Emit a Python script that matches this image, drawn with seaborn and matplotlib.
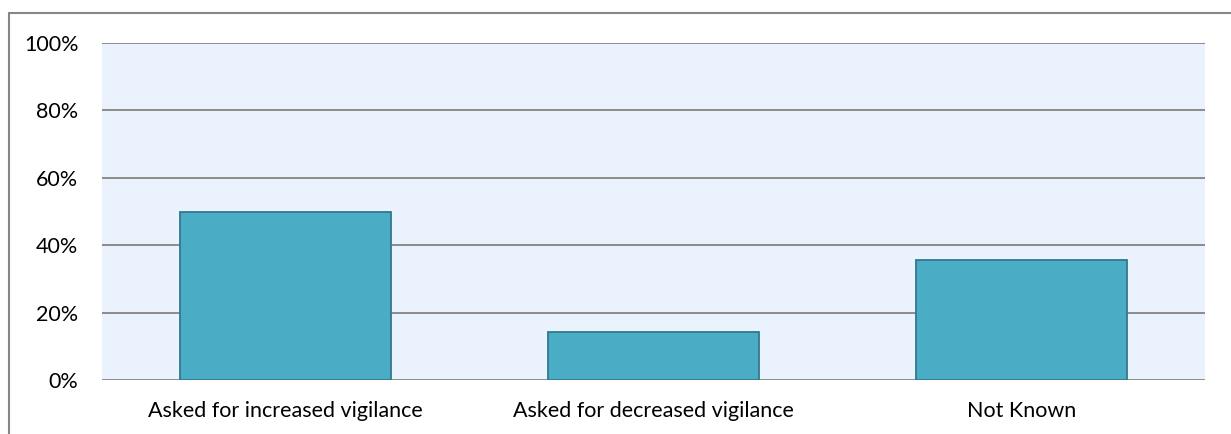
import matplotlib
matplotlib.use("Agg")
import matplotlib.pyplot as plt
import seaborn as sns
import pandas as pd
from matplotlib.lines import Line2D
from matplotlib.ticker import FuncFormatter

categories = ["Asked for increased vigilance", "Asked for decreased vigilance", "Not Known"]
values = [50.0, 14.3, 35.7]
yticks = [0, 20, 40, 60, 80, 100]

sns.set_theme(style="white")
plt.rcParams['font.family'] = ['Lato', 'DejaVu Sans']

df = pd.DataFrame({"category": categories, "value": values})

fig = plt.figure(figsize=(12.31, 4.34), dpi=100)
ax = fig.add_axes([102/1231, 1-380/434, (1205-102)/1231, (380-43)/434])
ax.set_facecolor("#E9F2FD")

for y in yticks:
    ax.axhline(y, color="#8C8C8C", lw=1.4, zorder=1)

sns.barplot(data=df, x="category", y="value", ax=ax, color="#4BACC6",
            width=0.574, edgecolor="#31788C", linewidth=1.3, saturation=1, zorder=2)

ax.set_ylim(0, 100)
ax.set_xlim(-0.5, 2.5)
ax.set_yticks(yticks)
ax.yaxis.set_major_formatter(FuncFormatter(lambda v, p: f"{int(v)}%"))
ax.tick_params(axis="y", length=0, pad=17, labelsize=15.5, colors="#000000")
ax.tick_params(axis="x", length=0, pad=15, labelsize=15.5, colors="#000000")
ax.set_xlabel("")
ax.set_ylabel("")
for s in ax.spines.values():
    s.set_visible(False)

# outer chart border (top and left visible)
fig.add_artist(Line2D([9/1231, 1.0], [1-13/434, 1-13/434], transform=fig.transFigure, color="#868686", lw=1.5))
fig.add_artist(Line2D([9/1231, 9/1231], [0, 1-13/434], transform=fig.transFigure, color="#868686", lw=1.5))

fig.savefig("out.png", dpi=100)
